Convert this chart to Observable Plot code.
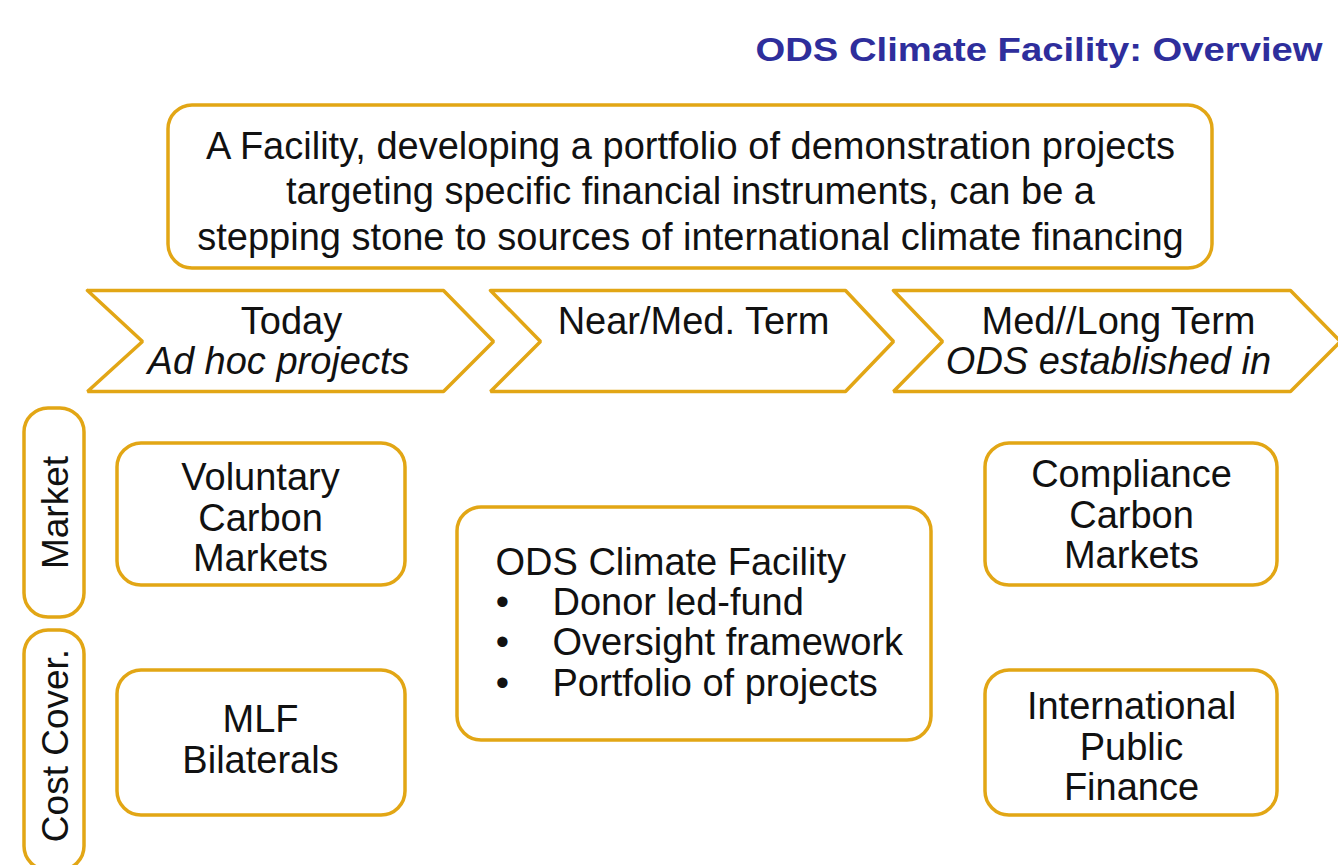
<!DOCTYPE html>
<html>
<head>
<meta charset="utf-8">
<script src="https://cdn.jsdelivr.net/npm/d3@7"></script>
<script src="https://cdn.jsdelivr.net/npm/@observablehq/plot@0.6"></script>
<style>
  html, body { margin: 0; padding: 0; background: #ffffff; }
  #chart svg { display: block; }
</style>
</head>
<body>
<div id="chart"></div>
<script>
// ---- content ----
const title = "ODS Climate Facility: Overview";
const summaryLines = [
  "A Facility, developing a portfolio of demonstration projects",
  "targeting specific financial instruments, can be a",
  "stepping stone to sources of international climate financing"
];
const phases = ["Today", "Near/Med. Term", "Med//Long Term"];
const phaseSubtitles = ["Ad hoc projects", "", "ODS established in"];
const rowLabels = ["Market", "Cost Cover."];
const todayItems = ["Voluntary\nCarbon\nMarkets", "MLF\nBilaterals"];
const laterItems = ["Compliance\nCarbon\nMarkets", "International\nPublic\nFinance"];
const facilityName = "ODS Climate Facility";
const facilityBullets = ["Donor led-fund", "Oversight framework", "Portfolio of projects"];

// ---- layout (pixel geometry) ----
const W = 1338, H = 865;
const gold = "#E2A615";
const font = "'Liberation Sans', Arial, sans-serif";
const chevronX = [[87, 142, 443, 493], [490, 540, 845, 893], [893, 942, 1290, 1340]]; // left, notch, topRight, tip
const chevronY = [290, 341, 391];
const phaseTextX = [291, 693, 1118];
const subTextX = [278, 693, 1108];
const rowY = [[408, 617], [630, 870]];
const itemYs = [[443, 585], [670, 815]];

// chevron outlines
const chevronPts = [];
chevronX.forEach((c, i) => {
  const [l, n, r, t] = c;
  const [top, mid, bot] = chevronY;
  [[l, top], [r, top], [t, mid], [r, bot], [l, bot], [n, mid], [l, top]]
    .forEach(([x, y]) => chevronPts.push({id: i, x, y}));
});

const boxes = [
  {x1: 168, x2: 1212, y1: 105, y2: 268},
  {x1: 24, x2: 84, y1: rowY[0][0], y2: rowY[0][1]},
  {x1: 24, x2: 84, y1: rowY[1][0], y2: rowY[1][1]},
  {x1: 117, x2: 405, y1: itemYs[0][0], y2: itemYs[0][1]},
  {x1: 117, x2: 405, y1: itemYs[1][0], y2: itemYs[1][1]},
  {x1: 985, x2: 1277, y1: itemYs[0][0], y2: itemYs[0][1]},
  {x1: 985, x2: 1277, y1: itemYs[1][0], y2: itemYs[1][1]},
  {x1: 457, x2: 931, y1: 507, y2: 740}
];

const summaryData = summaryLines.map((t, i) => ({t, x: 690, y: 146 + i * 45.5}));
const phaseData = phases.map((t, i) => ({t, x: phaseTextX[i], y: 321}));
const subData = phaseSubtitles.map((t, i) => ({t, x: subTextX[i], y: 361})).filter(d => d.t);
const rowData = rowLabels.map((t, i) => ({t, x: 56, y: [512, 745][i]}));
const todayData = todayItems.map((t, i) => ({t, x: 260, y: [517, 739][i]}));
const laterData = laterItems.map((t, i) => ({t, x: 1131, y: [514, 746][i]}));
const facData = [{t: facilityName, x: 495, y: 562}]
  .concat(facilityBullets.map((t, i) => ({t, x: 552, y: 602 + i * 40.5})));
const bulletData = facilityBullets.map((t, i) => ({t: "•", x: 502, y: 602 + i * 40.5}));

const txt = {fontSize: 38, fill: "#111", fontFamily: font};

const chart = Plot.plot({
  width: W, height: H,
  margin: 0,
  x: {domain: [0, W], range: [0, W], axis: null},
  y: {domain: [0, H], range: [0, H], axis: null},
  style: {background: "#ffffff", fontFamily: font, overflow: "visible"},
  marks: [
    Plot.rect(boxes, {x1: "x1", x2: "x2", y1: "y1", y2: "y2", rx: 24, fill: "white", stroke: gold, strokeWidth: 3.5}),
    Plot.line(chevronPts, {x: "x", y: "y", z: "id", stroke: gold, strokeWidth: 3.5, strokeLinejoin: "miter", curve: "linear"}),
    Plot.text([title], {x: 1322, y: 50, text: d => d, textAnchor: "end", fontSize: 34, fontWeight: "bold", fill: "#2E2E9C", fontFamily: font, className: "ttl"}),
    Plot.text(summaryData, {x: "x", y: "y", text: "t", ...txt}),
    Plot.text(phaseData, {x: "x", y: "y", text: "t", ...txt}),
    Plot.text(subData, {x: "x", y: "y", text: "t", ...txt, fontStyle: "italic"}),
    Plot.text(rowData, {x: "x", y: "y", text: "t", rotate: -90, ...txt, fontSize: 37}),
    Plot.text(todayData, {x: "x", y: "y", text: "t", lineHeight: 1.07, ...txt}),
    Plot.text(laterData, {x: "x", y: "y", text: "t", lineHeight: 1.07, ...txt}),
    Plot.text(facData, {x: "x", y: "y", text: "t", textAnchor: "start", ...txt}),
    Plot.text(bulletData, {x: "x", y: "y", text: "t", ...txt})
  ]
});
// stretch the title horizontally to the width it has in the reference
d3.select(chart).selectAll(".ttl text")
  .attr("textLength", 567).attr("lengthAdjust", "spacingAndGlyphs");
document.getElementById("chart").appendChild(chart);
</script>
</body>
</html>
